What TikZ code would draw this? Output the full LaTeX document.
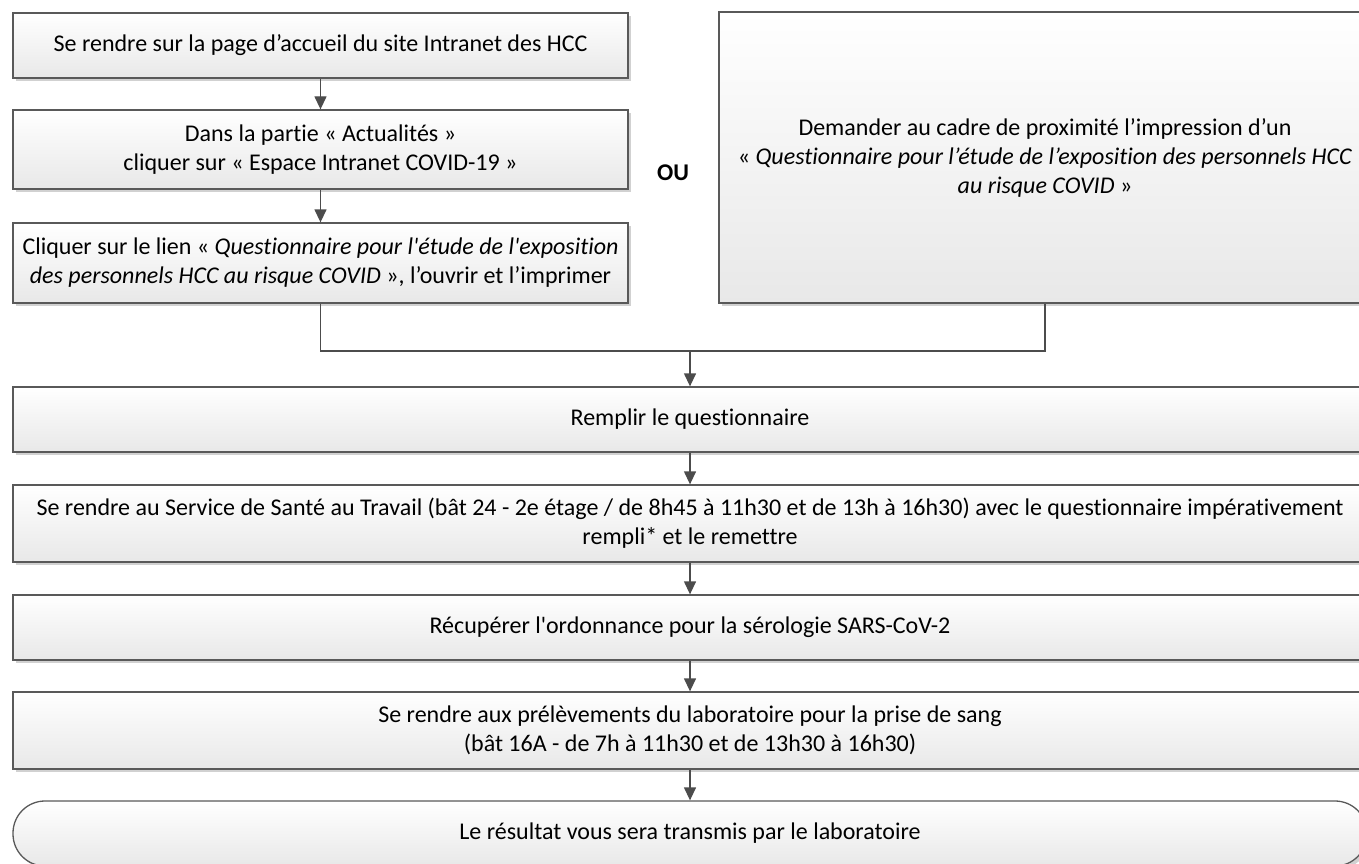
\documentclass[tikz,border=0pt]{standalone}
\usepackage{fontspec}
\setmainfont{Carlito}[Ligatures=NoCommon]
\usetikzlibrary{arrows.meta,shadows}
\newcommand{\sq}{\textquotesingle}
\begin{document}
\begin{tikzpicture}[x=1pt,y=-1pt,
  every node/.style={font=\fontsize{24}{29}\selectfont},
  proc/.style={draw=black!65, line width=1.3pt, top color=white, bottom color=black!9,
    drop shadow={shadow xshift=3pt, shadow yshift=-3pt, fill=black!18, opacity=1},
    align=center, inner sep=0pt},
  conn/.style={draw=black!70, line width=1.3pt},
  arr/.style={conn, -{Triangle[length=13pt,width=12pt]}}]
\useasboundingbox (0,0) rectangle (1359,864);
\clip (0,0) rectangle (1359,864);

\node[proc, minimum width=615pt, minimum height=65pt] (b1) at (320.5,45.5)
  {Se rendre sur la page d’accueil du site Intranet des HCC};
\node[proc, minimum width=615pt, minimum height=79pt] (b2) at (320.5,149.5)
  {Dans la partie « Actualités »\\cliquer sur « Espace Intranet COVID-19 »};
\node[proc, minimum width=615pt, minimum height=80pt] (b3) at (320.5,263)
  {Cliquer sur le lien « \textit{Questionnaire pour l\sq étude de l\sq exposition}\\\textit{des personnels HCC au risque COVID} », l’ouvrir et l’imprimer};
\node[font=\bfseries\fontsize{24}{29}\selectfont] (ou) at (673,173) {OU};
\node[proc, minimum width=652pt, minimum height=291pt] (rb) at (1045,157.5)
  {Demander au cadre de proximité l’impression d’un\\« \textit{Questionnaire pour l’étude de l’exposition des personnels HCC}\\\textit{au risque COVID} »};

\node[proc, minimum width=1354pt, minimum height=65pt] (r1) at (690,419.5)
  {Remplir le questionnaire};
\node[proc, minimum width=1354pt, minimum height=77pt] (r2) at (690,523.5)
  {Se rendre au Service de Santé au Travail (bât 24 - 2e étage / de 8h45 à 11h30 et de 13h à 16h30) avec le questionnaire impérativement\\rempli* et le remettre};
\node[proc, minimum width=1354pt, minimum height=65pt] (r3) at (690,627.5)
  {Récupérer l\sq ordonnance pour la sérologie SARS-CoV-2};
\node[proc, minimum width=1354pt, minimum height=77pt] (r4) at (690,730.5)
  {Se rendre aux prélèvements du laboratoire pour la prise de sang\\(bât 16A - de 7h à 11h30 et de 13h30 à 16h30)};
\node[proc, rounded corners=32pt, minimum width=1354pt, minimum height=65pt] (r5) at (690,833.5)
  {Le résultat vous sera transmis par le laboratoire};

\coordinate (j) at (690,351);
\draw[arr] (b1.south) -- (b2.north);
\draw[arr] (b2.south) -- (b3.north);
\draw[conn] (b3.south) |- (j) -| (rb.south);
\draw[arr] (j) -- (r1.north);
\draw[arr] (r1.south) -- (r2.north);
\draw[arr] (r2.south) -- (r3.north);
\draw[arr] (r3.south) -- (r4.north);
\draw[arr] (r4.south) -- (r5.north);
\end{tikzpicture}
\end{document}
